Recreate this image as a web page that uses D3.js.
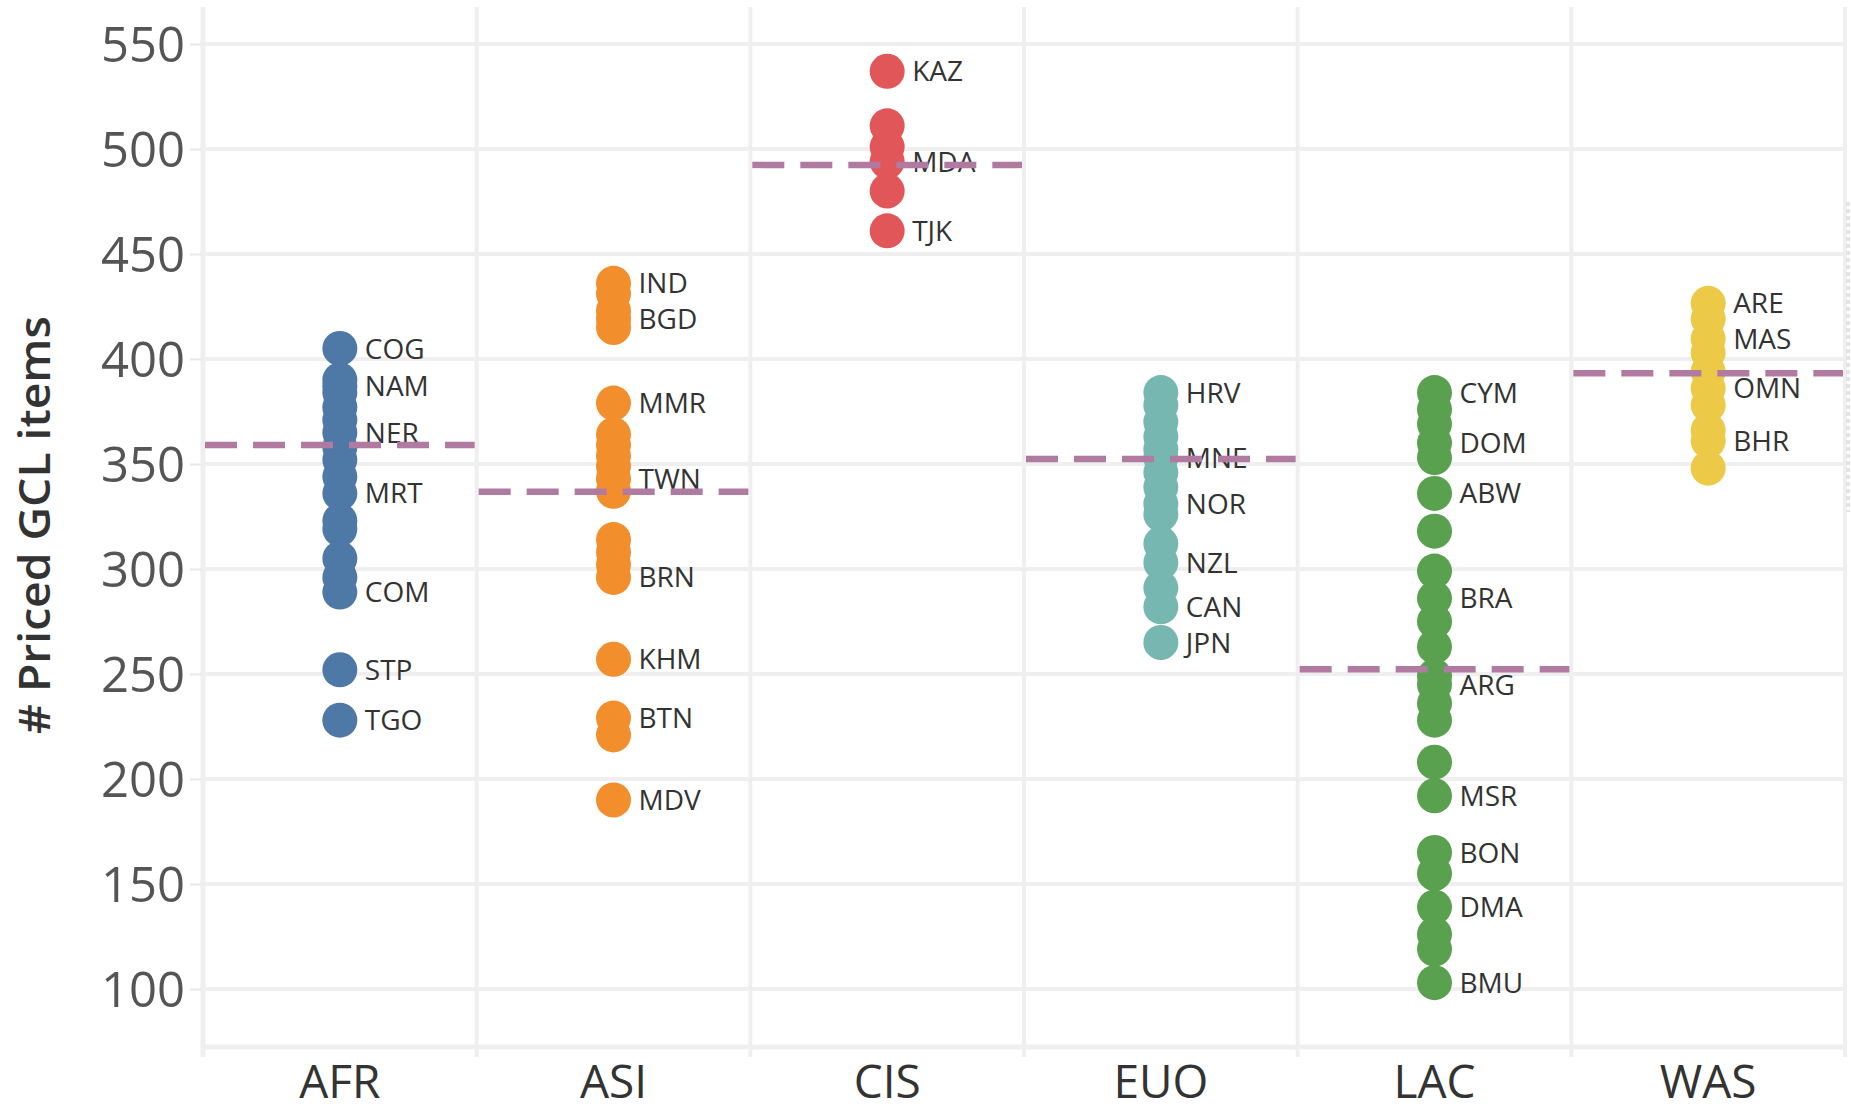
<!DOCTYPE html>
<html>
<head>
<meta charset="utf-8">
<script src="https://cdn.jsdelivr.net/npm/d3@7"></script>
<style>
  html, body { margin: 0; padding: 0; background: #ffffff; }
  svg { display: block; }
</style>
</head>
<body>
<svg id="chart" width="1851" height="1113"></svg>
<script>
// ---------- data ----------
const regions = ["AFR", "ASI", "CIS", "EUO", "LAC", "WAS"];
const regionColors = ["#4e79a7", "#f28e2b", "#e15759", "#76b7b2", "#59a14f", "#edc948"];
const yTicks = [100, 150, 200, 250, 300, 350, 400, 450, 500, 550];
const yTitle = "# Priced GCL items";

const afrValues = [405, 390, 387, 384, 377, 371, 365, 358, 352, 344, 336, 323, 319, 305, 296, 289, 252, 228];
const afrCodes  = ["COG", "", "NAM", "", "", "", "NER", "", "", "", "MRT", "", "", "", "", "COM", "STP", "TGO"];

const asiValues = [436, 431, 423, 419, 415, 379, 364, 359, 354, 349, 343, 337, 314, 308, 302, 296, 257, 229, 221, 190];
const asiCodes  = ["IND", "", "", "BGD", "", "MMR", "", "", "", "", "TWN", "", "", "", "", "BRN", "KHM", "BTN", "", "MDV"];

const cisValues = [537, 511, 501, 494, 480, 461];
const cisCodes  = ["KAZ", "", "", "MDA", "", "TJK"];

const euoValues = [384, 378, 370, 363, 357, 353, 346, 339, 331, 326, 312, 303, 291, 282, 265];
const euoCodes  = ["HRV", "", "", "", "", "MNE", "", "", "NOR", "", "", "NZL", "", "CAN", "JPN"];

const lacValues = [384, 376, 369, 360, 353, 336, 318, 299, 286, 275, 263, 249, 245, 236, 228, 208, 192, 165, 155, 139, 126, 119, 103];
const lacCodes  = ["CYM", "", "", "DOM", "", "ABW", "", "", "BRA", "", "", "", "ARG", "", "", "", "MSR", "BON", "", "DMA", "", "", "BMU"];

const wasValues = [426.5, 419, 409.5, 403, 394, 386, 378, 366, 361, 348];
const wasCodes  = ["ARE", "", "MAS", "", "", "OMN", "", "", "BHR", ""];

// average reference line per region
const avgValues = [359, 336.8, 492.4, 352.4, 252.2, 393.2];

// ---------- build ----------
const seriesValues = [afrValues, asiValues, cisValues, euoValues, lacValues, wasValues];
const seriesCodes = [afrCodes, asiCodes, cisCodes, euoCodes, lacCodes, wasCodes];
const points = [];
regions.forEach((r, i) => {
  seriesValues[i].forEach((v, j) => points.push({ region: r, value: v, code: seriesCodes[i][j], ci: i }));
});

const svg = d3.select("#chart");
const plotLeft = 203, plotRight = 1845, plotTop = 7, plotBottom = 1047;

const x = d3.scaleBand().domain(regions).range([plotLeft, plotRight]).padding(0);
const y = d3.scaleLinear().domain([72.38, 567.6]).range([plotBottom, plotTop]);

const gridColor = "#efefef";

// horizontal gridlines
svg.append("g").selectAll("line").data(yTicks).join("line")
  .attr("x1", plotLeft).attr("x2", plotRight)
  .attr("y1", d => y(d)).attr("y2", d => y(d))
  .attr("stroke", gridColor).attr("stroke-width", 4);

// vertical column separators
const seps = regions.map(r => x(r)).concat([plotRight]);
svg.append("g").selectAll("line").data(seps.slice(1)).join("line")
  .attr("x1", d => d).attr("x2", d => d)
  .attr("y1", plotTop).attr("y2", plotBottom + 10)
  .attr("stroke", gridColor).attr("stroke-width", 4);

// left axis line & bottom line
svg.append("line").attr("x1", plotLeft).attr("x2", plotLeft).attr("y1", plotTop).attr("y2", plotBottom + 10)
  .attr("stroke", gridColor).attr("stroke-width", 5);
svg.append("line").attr("x1", plotLeft).attr("x2", plotRight).attr("y1", plotBottom).attr("y2", plotBottom)
  .attr("stroke", gridColor).attr("stroke-width", 5);

// y axis (ticks + labels)
const yAxis = svg.append("g").attr("transform", `translate(${plotLeft - 2},0)`)
  .call(d3.axisLeft(y).tickValues(yTicks).tickSize(11).tickPadding(5));
yAxis.select(".domain").remove();
yAxis.selectAll(".tick line").attr("stroke", "#e8e8e8").attr("stroke-width", 2);
yAxis.selectAll(".tick text")
  .attr("fill", "#555").attr("font-family", "'Open Sans', sans-serif").attr("font-size", 49)
  .attr("dy", "0.36em");

// x axis labels
const xAxis = svg.append("g").attr("transform", `translate(0,${plotBottom})`)
  .call(d3.axisBottom(x).tickSize(0).tickPadding(0));
xAxis.select(".domain").remove();
xAxis.selectAll(".tick text")
  .attr("fill", "#333").attr("font-family", "'Open Sans', sans-serif").attr("font-size", 46)
  .attr("y", 51).attr("dy", 0);

// y title
svg.append("text")
  .attr("transform", `translate(50,525) rotate(-90)`)
  .attr("text-anchor", "middle")
  .attr("fill", "#333")
  .attr("font-family", "'Open Sans', sans-serif")
  .attr("font-weight", 600)
  .attr("font-size", 44)
  .attr("textLength", 418)
  .attr("lengthAdjust", "spacingAndGlyphs")
  .text(yTitle);

// dots
const r = 17.5;
svg.append("g").selectAll("circle").data(points).join("circle")
  .attr("cx", d => x(d.region) + x.bandwidth() / 2)
  .attr("cy", d => y(d.value))
  .attr("r", r)
  .attr("fill", d => regionColors[d.ci]);

// labels
svg.append("g").selectAll("text").data(points.filter(d => d.code)).join("text")
  .attr("x", d => x(d.region) + x.bandwidth() / 2 + 25)
  .attr("y", d => y(d.value))
  .attr("dy", "0.36em")
  .attr("fill", "#333")
  .attr("font-family", "'Open Sans', sans-serif")
  .attr("font-size", 28)
  .text(d => d.code);

// average reference lines
svg.append("g").selectAll("line").data(regions).join("line")
  .attr("x1", d => x(d) + 2).attr("x2", d => x(d) + x.bandwidth() - 2)
  .attr("y1", (d, i) => y(avgValues[i])).attr("y2", (d, i) => y(avgValues[i]))
  .attr("stroke", "#b07aa1").attr("stroke-width", 6.5)
  .attr("stroke-dasharray", "32 16");

// faint dotted scroll edge at right
svg.append("line").attr("x1", 1848).attr("x2", 1848).attr("y1", 202).attr("y2", 512)
  .attr("stroke", "#e4e4e4").attr("stroke-width", 4).attr("stroke-dasharray", "4 3");
</script>
</body>
</html>
